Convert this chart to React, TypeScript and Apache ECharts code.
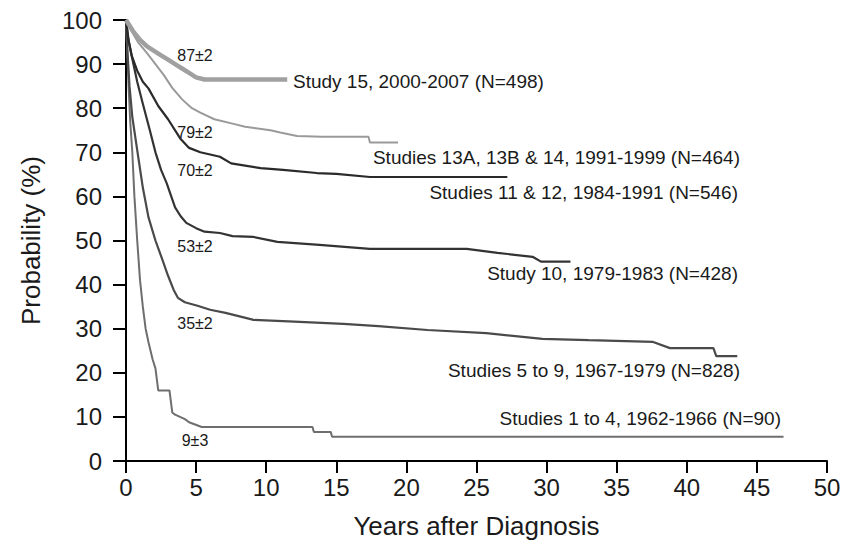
import React, { useEffect, useRef } from "react";
import * as echarts from "echarts";

// Kaplan–Meier curves: [years after diagnosis, probability %]
const study15: [number, number][] = [[0,100],[0.5,97.5],[1,95.5],[1.5,94],[2,93],[2.5,92],[3,91],[3.5,90],[4,89],[4.5,88],[5,87],[5.6,86.5],[11.5,86.5]];
const studies13_14: [number, number][] = [[0,100],[0.3,98],[0.85,95],[1.5,92.5],[2.1,90],[2.7,87.5],[3.3,84.6],[4,82],[4.7,80],[5.3,79],[6.3,77.5],[7.6,76.5],[8.5,75.8],[10.3,75],[11,74.5],[12.2,73.7],[14,73.5],[17.3,73.5],[17.4,72.2],[19.4,72.2]];
const studies11_12: [number, number][] = [[0,100],[0.15,96],[0.4,92],[0.8,88.5],[1.2,86],[1.6,84.5],[2.3,80.5],[3,77.5],[3.9,73],[4.5,71],[5.3,70],[6.7,69],[7.5,67.5],[9.6,66.4],[11.2,66],[13.6,65.3],[15,65.1],[17.4,64.4],[27.2,64.4]];
const study10: [number, number][] = [[0,100],[0.2,95],[0.43,91.5],[0.8,86],[1.2,81],[1.7,75],[2.1,70],[2.5,66],[2.9,63],[3.5,57.5],[3.9,55.5],[4.3,54],[5,52.8],[5.6,52],[6.7,51.7],[7.6,51],[9.1,50.8],[10.8,49.7],[13.8,49],[17.4,48.1],[24.3,48.1],[26.5,47.2],[29,46.3],[29.6,45.2],[31.7,45.2]];
const studies5_9: [number, number][] = [[0,100],[0.1,93],[0.25,85],[0.45,78],[0.8,70.5],[1.2,62],[1.6,55.3],[2.1,50],[2.6,45.6],[3,42],[3.4,38.8],[3.7,37],[4.2,36],[5.1,35.2],[6,34.3],[7.1,33.6],[9.1,32],[12,31.6],[15.5,31.1],[18,30.6],[21.5,29.7],[25.7,29],[29.7,27.7],[33,27.4],[37.6,27],[38.8,25.6],[41.9,25.6],[42.1,23.8],[43.6,23.8]];
const studies1_4: [number, number][] = [[0,100],[0.1,92],[0.2,84],[0.3,77],[0.45,70],[0.6,60],[0.8,50],[1,41],[1.2,35],[1.4,30],[1.6,27],[1.9,23],[2.1,21],[2.3,16],[3.1,16],[3.3,11],[3.5,10.5],[4.2,9.5],[4.5,8.8],[5.4,7.7],[13.3,7.7],[13.4,6.6],[14.6,6.6],[14.7,5.5],[46.9,5.5]];

const seriesNames = [
  "Study 15, 2000-2007 (N=498)",
  "Studies 13A, 13B & 14, 1991-1999 (N=464)",
  "Studies 11 & 12, 1984-1991 (N=546)",
  "Study 10, 1979-1983 (N=428)",
  "Studies 5 to 9, 1967-1979 (N=828)",
  "Studies 1 to 4, 1962-1966 (N=90)",
];
const fiveYearLabels = ["87±2", "79±2", "70±2", "53±2", "35±2", "9±3"];

const FONT = "'Liberation Sans', Arial, sans-serif";

export default function App() {
  const ref = useRef<HTMLDivElement>(null);
  useEffect(() => {
    if (!ref.current) return;
    const chart = echarts.init(ref.current, undefined, { renderer: "svg" });
    const mk = (name: string, data: [number, number][], color: string, width: number) => ({
      name,
      type: "line",
      data,
      showSymbol: false,
      symbol: "none",
      lineStyle: { color, width },
      z: 3,
    });
    const seriesName = (t: string, x: number, y: number, align: string) => ({
      type: "text",
      x,
      y,
      style: { text: t, font: `19px ${FONT}`, fill: "#1a1a1a", textAlign: align, textVerticalAlign: "middle" },
    });
    const fy = (t: string, x: number, y: number) => ({
      type: "text",
      x,
      y,
      style: { text: t, font: `16px ${FONT}`, fill: "#1a1a1a", textAlign: "center", textVerticalAlign: "middle" },
    });
    chart.setOption({
      animation: false,
      backgroundColor: "#ffffff",
      grid: { left: 126, right: 18, top: 20, bottom: 94, containLabel: false },
      xAxis: {
        type: "value",
        min: 0,
        max: 50,
        interval: 5,
        name: "Years after Diagnosis",
        nameLocation: "middle",
        nameGap: 52,
        nameTextStyle: { fontFamily: FONT, fontSize: 26, color: "#1a1a1a" },
        axisLine: { show: true, onZero: false, lineStyle: { color: "#000", width: 2 } },
        axisTick: { show: true, length: 12, lineStyle: { color: "#000", width: 2 } },
        axisLabel: { fontFamily: FONT, fontSize: 24, color: "#1a1a1a", margin: 14 },
        splitLine: { show: false },
      },
      yAxis: {
        type: "value",
        min: 0,
        max: 100,
        interval: 10,
        name: "Probability (%)",
        nameLocation: "middle",
        nameGap: 82,
        nameTextStyle: { fontFamily: FONT, fontSize: 26, color: "#1a1a1a" },
        axisLine: { show: true, onZero: false, lineStyle: { color: "#000", width: 2 } },
        axisTick: { show: true, length: 13, lineStyle: { color: "#000", width: 2 } },
        axisLabel: { fontFamily: FONT, fontSize: 24, color: "#1a1a1a", margin: 24 },
        splitLine: { show: false },
      },
      series: [
        mk(seriesNames[5], studies1_4, "#6e6e6e", 2),
        mk(seriesNames[4], studies5_9, "#4a4a4a", 2.2),
        mk(seriesNames[3], study10, "#333333", 2.2),
        mk(seriesNames[2], studies11_12, "#2a2a2a", 2.2),
        mk(seriesNames[1], studies13_14, "#9a9a9a", 2),
        mk(seriesNames[0], study15, "#a0a0a0", 4.5),
      ],
      graphic: [
        seriesName(seriesNames[0], 293, 81, "left"),
        seriesName(seriesNames[1], 740, 157, "right"),
        seriesName(seriesNames[2], 738, 192, "right"),
        seriesName(seriesNames[3], 738, 273, "right"),
        seriesName(seriesNames[4], 740, 370, "right"),
        seriesName(seriesNames[5], 781, 418, "right"),
        fy(fiveYearLabels[0], 195, 55),
        fy(fiveYearLabels[1], 195, 132),
        fy(fiveYearLabels[2], 195, 170),
        fy(fiveYearLabels[3], 195, 246),
        fy(fiveYearLabels[4], 195, 323),
        fy(fiveYearLabels[5], 195, 440),
      ],
    });
    return () => chart.dispose();
  }, []);
  return <div ref={ref} style={{ width: 845, height: 555, position: "absolute", left: 0, top: 0, background: "#fff" }} />;
}
